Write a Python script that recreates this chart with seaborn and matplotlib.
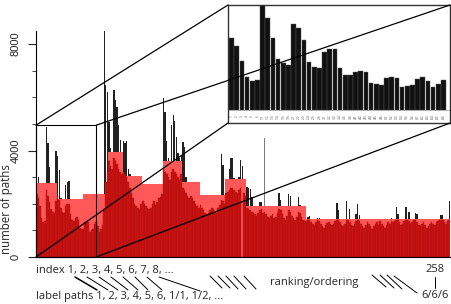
import numpy as np
import pandas as pd
import seaborn as sns
import matplotlib.pyplot as plt
from matplotlib.patches import Rectangle, ConnectionPatch
from matplotlib.lines import Line2D
from matplotlib.ticker import MultipleLocator

W, H = 451, 304

# number of paths per ranked index (all paths, dark bars)
black = [
    # 0-12
    3344, 3002, 2287, 1540, 1353, 1400, 4900, 4278, 3376, 2380, 2178, 2100, 3998,
    # 13-28
    3811, 3267, 2224, 1991, 1944, 2691, 2831, 2862, 1944, 1633, 1618, 1758, 1820, 1758, 1244, 1198,
    # 29-44
    1167, 1509, 1556, 1478, 1058, 1136, 1167, 1447, 1524, 1338, 1089, 1198, 1400, 8500, 6450, 6200,
    # 45-53
    5070, 4100, 3800, 6280, 5900, 5640, 4960, 4400, 3700,
    # 54-65
    4360, 4300, 4360, 3300, 3100, 2800, 2600, 2400, 2300, 2200, 2100, 2300,
    # 66-78
    2300, 2200, 2100, 2000, 1900, 1950, 2100, 2200, 2050, 2150, 2300, 2400, 2500,
    # 79-90
    5980, 5450, 4360, 3700, 3600, 4960, 5340, 5100, 4500, 3900, 3700, 3800,
    # 91-101
    4330, 4140, 3000, 2600, 2500, 2400, 2300, 2200, 2100, 2000, 2000,
    # 102-117
    2000, 1900, 1800, 1700, 1650, 1700, 1800, 1900, 1850, 1750, 1700, 1900, 2000, 3870, 3460, 2200,
    # 118-130
    2600, 2700, 3300, 3720, 3720, 2970, 2800, 2700, 3000, 3650, 3400, 2700, 2600,
    # 131-167
    2630, 2590, 2550, 2260, 1800, 1700, 1650, 1800, 2070, 2070, 1750, 4470, 1700, 1600, 1550, 1650,
    1700, 1600, 1650, 1800, 2410, 2140, 1750, 1600, 1550, 1700, 2370, 2290, 1800, 1650, 1600, 1750,
    2260, 1950, 1700, 1550, 1500,
    # 168-257
    1350, 1500, 1540, 1300, 1250, 1200, 1300, 1460, 1470, 1250,
    1150, 1100, 1200, 1280, 1300, 1250, 1200, 1250, 1350, 2030,
    1770, 1300, 1200, 1150, 1250, 2100, 1380, 1800, 1200, 1150,
    1250, 1620, 2000, 1580, 1250, 1150, 1100, 1200, 1300, 1250,
    1150, 1050, 1150, 1250, 1300, 1200, 1430, 1250, 1150, 1100,
    1200, 1300, 1250, 1460, 1300, 1350, 1880, 1620, 1300, 1200,
    1250, 1350, 1880, 1380, 1700, 1250, 1300, 1380, 1650, 1600,
    1200, 1150, 1250, 1300, 1200, 1100, 1150, 1250, 1300, 1250,
    1200, 1300, 1350, 1380, 1580, 1560, 1300, 1250, 1350, 2100,
]

# labelled paths per ranked index (red bars)
red = [
    2350, 2200, 1900, 1450, 1300, 1350, 2500, 2300, 2050, 1800, 1700, 1650, 2100,
    2300, 2150, 1850, 1700, 1650, 1900, 2000, 2000, 1600, 1400, 1350, 1450, 1500, 1400, 1100, 1050,
    1050, 1300, 1350, 1300, 950, 1000, 1050, 1250, 1300, 1150, 950, 1050, 1200, 1800, 2800, 3200,
    3600, 3400, 3300, 3700, 3600, 3500, 3300, 3200, 3100,
    3200, 3100, 3000, 2800, 2600, 2400, 2200, 2000, 1900, 1850, 1800, 2000,
    2100, 2000, 1900, 1850, 1800, 1850, 2000, 2100, 1950, 2050, 2200, 2250, 2350,
    3300, 3200, 3100, 3000, 2900, 3200, 3300, 3200, 3100, 3000, 2900, 3100,
    2600, 2500, 2400, 2300, 2200, 2300, 2200, 2100, 2000, 1900, 1850,
    1950, 1850, 1750, 1650, 1600, 1650, 1750, 1850, 1800, 1700, 1650, 1850, 1950, 2150, 2100, 2000,
    2400, 2450, 2500, 2600, 2600, 2500, 2450, 2400, 2500, 2600, 0, 2400, 2300,
    1850, 1800, 1750, 1700, 1650, 1600, 1550, 1650, 1750, 1800, 1650, 1700, 1600, 1500, 1450, 1550,
    1600, 1450, 1500, 1650, 1800, 1750, 1600, 1450, 1400, 1550, 1750, 1700, 1550, 1450, 1400, 1500,
    1700, 1650, 1500, 1400, 1350,
    1350, 1400, 1380, 1300, 1250, 1200, 1300, 1380, 1350, 1250,
    1150, 1100, 1200, 1280, 1300, 1250, 1200, 1250, 1350, 1400,
    1380, 1300, 1200, 1150, 1250, 1400, 1380, 1300, 1200, 1150,
    1250, 1350, 1400, 1350, 1250, 1150, 1100, 1200, 1300, 1250,
    1150, 1050, 1150, 1250, 1300, 1200, 1350, 1250, 1150, 1100,
    1200, 1300, 1250, 1350, 1300, 1350, 1400, 1380, 1300, 1200,
    1250, 1350, 1400, 1380, 1350, 1250, 1300, 1380, 1400, 1300,
    1200, 1150, 1250, 1300, 1200, 1100, 1150, 1250, 1300, 1250,
    1200, 1300, 1350, 1380, 1400, 1380, 1300, 1250, 1350, 1400,
]

# mean level per ranking group (light red steps)
step_first = [0, 13, 29, 45, 54, 66, 79, 91, 102, 118, 131, 168]
step_last = [12, 28, 44, 53, 65, 78, 90, 101, 117, 130, 167, 257]
step_level = [2780, 2180, 2370, 3950, 3030, 2760, 3590, 2830, 2330, 2930, 1920, 1420]

n_inset = 42
inset_labels = [str(a) for a in range(1, 7)] + [f"{a}/{b}" for a in range(1, 7) for b in range(1, 7)]


def fx(x):
    return x / W


def fy(y):
    return 1 - y / H


sns.set_style('white')
plt.rcParams['font.family'] = ['Open Sans', 'DejaVu Sans']

fig = plt.figure(figsize=(W / 100, H / 100), dpi=100)
ax = fig.add_axes([fx(36), fy(257), 414 / W, (257 - 30.7) / H])

df = pd.DataFrame({'rank': np.arange(len(black)), 'all': black, 'labeled': red})
sns.barplot(data=df, x='rank', y='all', color='#222222', saturation=1, width=0.85,
            linewidth=0, errorbar=None, ax=ax, zorder=1)
for first, last, level in zip(step_first, step_last, step_level):
    ax.bar(first - 0.5, level, width=last - first + 1, align='edge', color='#ff5858',
           linewidth=0, zorder=2)
sns.barplot(data=df, x='rank', y='labeled', color='#d01414', saturation=1, width=1.0,
            edgecolor='#a00c0c', linewidth=0.25, errorbar=None, ax=ax, zorder=3)
ax.containers[0][142].set_facecolor('#7a7a7a')

ax.set_xlim(-0.5, 257.5)
ax.set_ylim(0, 8500)
ax.set_xticks([])
ax.set_xlabel('')
ax.set_ylabel('')
for s in ['top', 'right']:
    ax.spines[s].set_visible(False)
for s in ['left', 'bottom']:
    ax.spines[s].set_color('black')
    ax.spines[s].set_linewidth(0.8)
    ax.spines[s].set_zorder(6)
ax.set_yticks([0, 4000, 8000])
ax.yaxis.set_minor_locator(MultipleLocator(1000))
ax.tick_params(axis='y', which='major', left=True, length=6, width=0.8, pad=5, labelsize=8)
ax.tick_params(axis='y', which='minor', left=True, length=3, width=0.6)
for lbl in ax.get_yticklabels():
    lbl.set_rotation(90)
    lbl.set_va('center')
    lbl.set_family(['Liberation Sans', 'DejaVu Sans'])

# zoom box on the first ranks
ax.add_patch(Rectangle((-0.5, 0), 37.5, 4950, fill=False, ec='black', lw=0.8, zorder=7, clip_on=False))

# inset with the first 42 ranks
axi = fig.add_axes([fx(228), fy(123), 222 / W, 118 / H])
sns.barplot(x=np.arange(n_inset), y=black[:n_inset], color='#111111', saturation=1, width=0.9,
            edgecolor='#555555', linewidth=0.3, errorbar=None, ax=axi)
axi.set_xlim(-0.7, 42.27)
axi.set_ylim(-607, 4900)
axi.set_xticks([])
axi.set_yticks([])
axi.axhline(0, color='#888888', lw=0.4)
for i, lab in enumerate(inset_labels):
    axi.text(i, -300, lab, fontsize=2.2, rotation=90, ha='center', va='center', color='#444444')
for s in axi.spines.values():
    s.set_color('#333333')
    s.set_linewidth(1.0)

for a, b in [((-0.5, 4950), (0, 1)), ((37, 4950), (1, 1)), ((-0.5, 0), (0, 0)), ((37, 0), (1, 0))]:
    con = ConnectionPatch(xyA=a, coordsA=ax.transData, xyB=b, coordsB=axi.transAxes,
                          color='black', lw=0.9)
    con.set_zorder(10)
    fig.add_artist(con)

# labels
fig.text(fx(7), fy(209), 'number of paths', rotation=90, fontsize=8.3, ha='center', va='center')
fig.text(fx(36), fy(270), 'index 1, 2, 3, 4, 5, 6, 7, 8, ...', fontsize=8, ha='left', va='center')
fig.text(fx(36), fy(297), 'label paths 1, 2, 3, 4, 5, 6, 1/1, 1/2, ...', fontsize=8, ha='left', va='center')
fig.text(fx(314), fy(283), 'ranking/ordering', fontsize=8, ha='center', va='center')
fig.text(fx(435), fy(270), '258', fontsize=8, ha='center', va='center')
fig.text(fx(435), fy(296), '6/6/6', fontsize=8, ha='center', va='center')

segments = [
    (75, 277, 97, 290, 1.1), (87, 277, 108, 290, 0.7), (99, 277, 118, 290, 0.7),
    (111, 277, 128, 290, 0.7), (123, 277, 138, 290, 0.7), (135, 277, 148, 290, 0.7),
    (147, 277, 162, 290, 0.7), (159, 277, 200, 291, 0.7),
    (210, 276, 222, 288, 0.7), (218, 276, 230, 288, 0.7), (226, 276, 238, 289, 0.7),
    (234, 276, 246, 289, 0.7), (244, 276, 256, 289, 0.7),
    (372, 275, 386, 287, 0.7), (380, 275, 394, 288, 0.7), (387, 275, 402, 289, 0.7),
    (394, 276, 417, 293, 0.7),
    (435, 277, 435, 288, 0.7),
]
for x0, y0, x1, y1, lw in segments:
    fig.add_artist(Line2D([fx(x0), fx(x1)], [fy(y0), fy(y1)], transform=fig.transFigure,
                          color='black', lw=lw))

fig.savefig('out.png', dpi=100)
